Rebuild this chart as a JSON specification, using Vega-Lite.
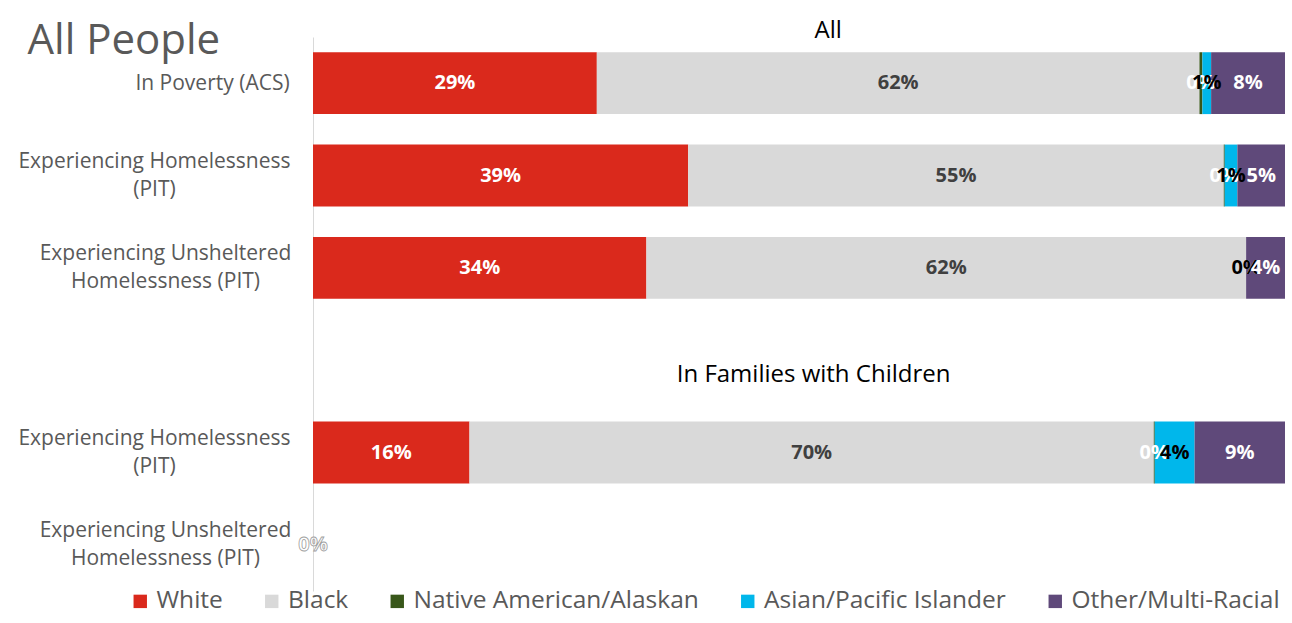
{
  "$schema": "https://vega.github.io/schema/vega-lite/v6.json",
  "width": 972,
  "height": 554,
  "autosize": "none",
  "padding": {"left": 313, "top": 37, "right": 7, "bottom": 32},
  "background": "white",
  "config": {"view": {"stroke": null}, "font": "Open Sans"},
  "data": {
    "values": [
      {"row": "p_all", "race": "White", "share": 0.292},
      {"row": "p_all", "race": "Black", "share": 0.620},
      {"row": "p_all", "race": "Native American/Alaskan", "share": 0.003},
      {"row": "p_all", "race": "Asian/Pacific Islander", "share": 0.009},
      {"row": "p_all", "race": "Other/Multi-Racial", "share": 0.076},
      {"row": "h_all", "race": "White", "share": 0.386},
      {"row": "h_all", "race": "Black", "share": 0.551},
      {"row": "h_all", "race": "Native American/Alaskan", "share": 0.001},
      {"row": "h_all", "race": "Asian/Pacific Islander", "share": 0.013},
      {"row": "h_all", "race": "Other/Multi-Racial", "share": 0.049},
      {"row": "u_all", "race": "White", "share": 0.343},
      {"row": "u_all", "race": "Black", "share": 0.617},
      {"row": "u_all", "race": "Native American/Alaskan", "share": 0.0},
      {"row": "u_all", "race": "Asian/Pacific Islander", "share": 0.0},
      {"row": "u_all", "race": "Other/Multi-Racial", "share": 0.040},
      {"row": "h_fam", "race": "White", "share": 0.161},
      {"row": "h_fam", "race": "Black", "share": 0.704},
      {"row": "h_fam", "race": "Native American/Alaskan", "share": 0.001},
      {"row": "h_fam", "race": "Asian/Pacific Islander", "share": 0.041},
      {"row": "h_fam", "race": "Other/Multi-Racial", "share": 0.093},
      {"row": "u_fam", "race": "White", "share": 0.0},
      {"row": "u_fam", "race": "Black", "share": 0.0},
      {"row": "u_fam", "race": "Native American/Alaskan", "share": 0.0},
      {"row": "u_fam", "race": "Asian/Pacific Islander", "share": 0.0},
      {"row": "u_fam", "race": "Other/Multi-Racial", "share": 0.0}
    ]
  },
  "transform": [{"stack": "share", "groupby": ["row"], "as": ["s0", "s1"]}],
  "resolve": {"scale": {"color": "independent"}, "legend": {"color": "independent"}},
  "layer": [
    {
      "mark": {"type": "bar"},
      "encoding": {
        "y": {
          "field": "row", "type": "nominal",
          "scale": {"domain": ["p_all", "h_all", "u_all", "gap", "h_fam", "u_fam"], "paddingInner": 0.33, "paddingOuter": 0.165},
          "axis": {
            "title": "All People",
            "titleAngle": 0, "titleAlign": "left", "titleBaseline": "alphabetic",
            "titleX": -286, "titleY": 16, "titleFontSize": 42, "titleFontWeight": "normal", "titleColor": "#595959",
            "domain": true, "domainColor": "#d9d9d9", "ticks": false, "grid": false,
            "labelFontSize": 21, "labelColor": "#595959", "labelLineHeight": 28, "labelLimit": 400,
            "labelAlign": "center",
            "labelPadding": {"condition": [{"test": "datum.value == 'p_all'", "value": 101}, {"test": "datum.value == 'u_all' || datum.value == 'u_fam'", "value": 148}], "value": 159},
            "labelOffset": {"condition": {"test": "datum.value == 'p_all'", "value": 1}, "value": -14},
            "labelExpr": "datum.value == 'p_all' ? 'In Poverty (ACS)' : datum.value == 'gap' ? '' : (datum.value == 'h_all' || datum.value == 'h_fam') ? ['Experiencing Homelessness', '(PIT)'] : ['Experiencing Unsheltered', 'Homelessness (PIT)']"
          }
        },
        "x": {"field": "s0", "type": "quantitative", "scale": {"domain": [0, 1]}, "axis": null},
        "x2": {"field": "s1"},
        "color": {
          "field": "race", "type": "nominal",
          "sort": ["White", "Black", "Native American/Alaskan", "Asian/Pacific Islander", "Other/Multi-Racial"],
          "scale": {"domain": ["White", "Black", "Native American/Alaskan", "Asian/Pacific Islander", "Other/Multi-Racial"], "range": ["#DA291C", "#D9D9D9", "#38571A", "#00B7EB", "#5F497A"]},
          "legend": {
            "title": null, "orient": "none", "direction": "horizontal", "legendX": -185, "legendY": 552,
            "symbolType": "square", "symbolSize": 180, "symbolStrokeWidth": 0, "labelFontSize": 24.5, "labelColor": "#595959",
            "columnPadding": 36.5, "labelOffset": 4, "labelLimit": 400
          }
        }
      }
    },
    {
      "transform": [
        {"filter": "datum.row != 'u_fam' || datum.race == 'White'"},
        {"calculate": "(datum.s0 + datum.s1) / 2", "as": "mid"}
      ],
      "mark": {"type": "text", "fontWeight": "bold", "fontSize": 20, "stroke": "#a0a0a0"},
      "encoding": {
        "y": {"field": "row", "type": "nominal"},
        "x": {"field": "mid", "type": "quantitative"},
        "color": {
          "condition": [
            {"test": "datum.race == 'Black'", "value": "#404040"},
            {"test": "datum.race == 'Asian/Pacific Islander'", "value": "#000000"}
          ],
          "value": "#ffffff"
        },
        "strokeWidth": {"condition": {"test": "datum.row == 'u_fam'", "value": 0.8}, "value": 0},
        "text": {"field": "share", "type": "quantitative", "format": ".0%"}
      }
    },
    {
      "data": {"values": [{"t": "All"}]},
      "mark": {"type": "text", "fontSize": 24, "color": "#000000", "dy": -52},
      "encoding": {
        "y": {"datum": "p_all", "type": "nominal"},
        "x": {"datum": 0.53, "type": "quantitative"},
        "text": {"field": "t"}
      }
    },
    {
      "data": {"values": [{"t": "In Families with Children"}]},
      "mark": {"type": "text", "fontSize": 24, "color": "#000000", "dy": 15},
      "encoding": {
        "y": {"datum": "gap", "type": "nominal"},
        "x": {"datum": 0.515, "type": "quantitative"},
        "text": {"field": "t"}
      }
    }
  ]
}
